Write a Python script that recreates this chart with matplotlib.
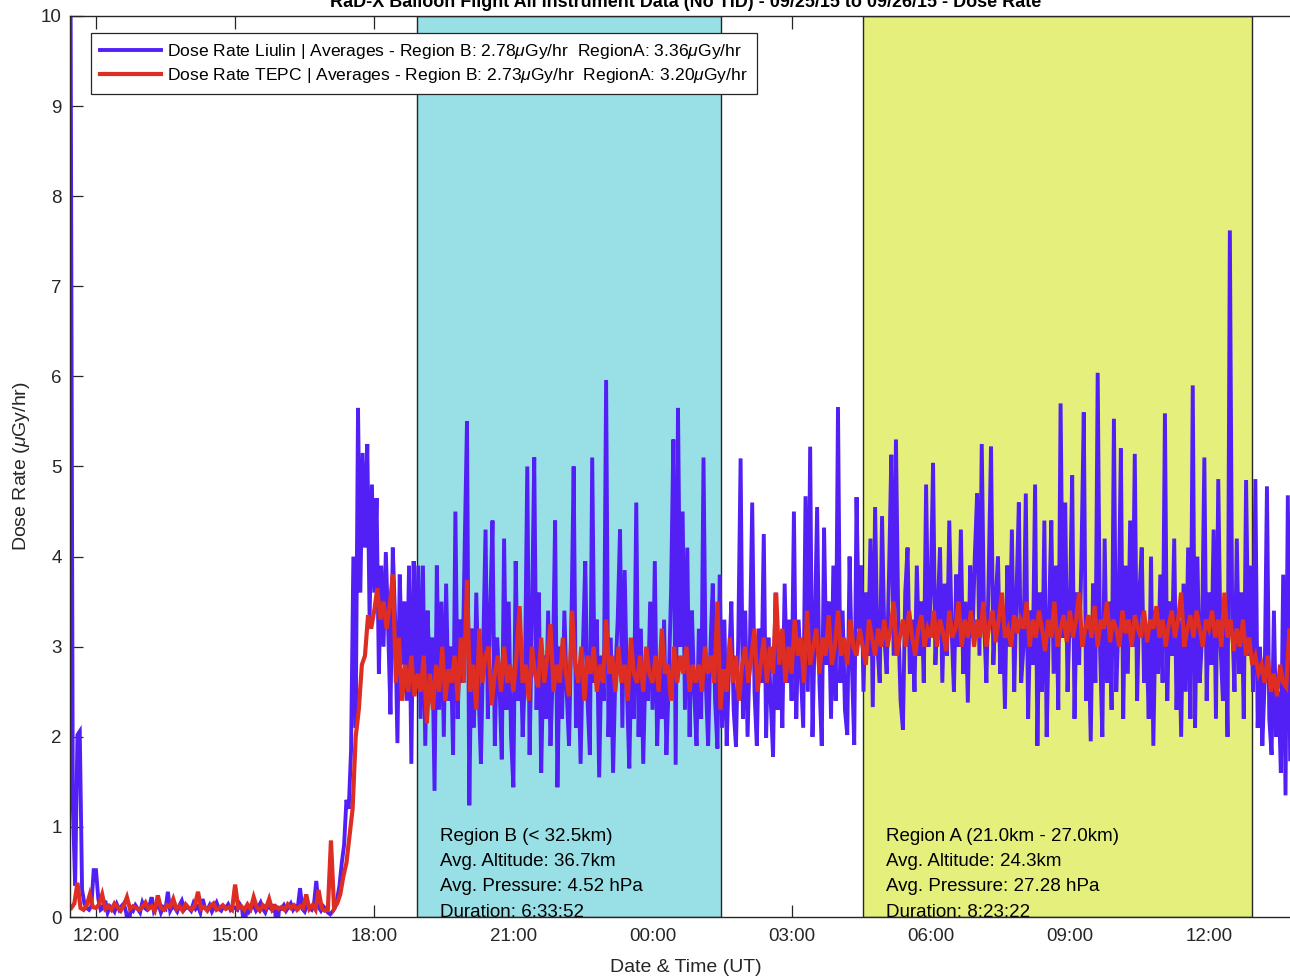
import matplotlib
matplotlib.use('Agg')
import matplotlib.pyplot as plt
import matplotlib.dates as mdates
import matplotlib.transforms as mtransforms
import pandas as pd

plt.rcParams['font.family'] = ['Liberation Sans', 'DejaVu Sans']
plt.rcParams['mathtext.fontset'] = 'custom'
plt.rcParams['mathtext.rm'] = 'Liberation Sans'
plt.rcParams['mathtext.it'] = 'Liberation Sans:italic'

# ---------------- data ----------------
title = "RaD-X Balloon Flight All Instrument Data (No TID) - 09/25/15 to 09/26/15 - Dose Rate"
xlabel = "Date & Time (UT)"
ylabel = "Dose Rate ($\\mu$Gy/hr)"
legend_labels = [
    "Dose Rate Liulin | Averages - Region B: 2.78$\\mu$Gy/hr  RegionA: 3.36$\\mu$Gy/hr",
    "Dose Rate TEPC | Averages - Region B: 2.73$\\mu$Gy/hr  RegionA: 3.20$\\mu$Gy/hr",
]

liulin_start = "2015-09-25 11:27"   # sampled every 3 minutes
liulin = [
    # 11:27 - 11:57
    10.6, 1.25, 0.35, 2.02, 2.06, 0.3, 0.15, 0.1, 0.08, 0.12, 0.52,
    # 12
    0.52, 0.2, 0.08, 0.1, 0.18, 0.05, 0.12, 0.1, 0.06, 0.14, 0.08, 0.12, 0.15, 0.05, -0.12, 0.1, 0.07, 0.13, 0.09, 0.05,
    # 13
    0.16, 0.1, 0.08, 0.12, 0.22, 0.06, 0.1, 0.14, 0.05, 0.11, 0.09, 0.28, 0.07, 0.12, 0.1, 0.06, 0.13, 0.18, 0.08, 0.11,
    # 14
    0.1, 0.07, 0.15, 0.09, 0.12, 0.05, 0.2, 0.1, 0.08, 0.13, 0.06, 0.11, 0.16, 0.09, 0.07, 0.12, 0.1, 0.14, 0.08, 0.11,
    # 15
    0.1, 0.08, 0.14, 0.09, -0.15, 0.12, 0.06, 0.1, 0.13, 0.07, 0.11, 0.16, 0.09, 0.05, 0.12, 0.1, 0.08, 0.14, -0.16, 0.1,
    # 16
    0.09, 0.13, 0.07, 0.11, 0.15, 0.08, 0.12, 0.1, 0.32, 0.09, 0.06, 0.13, 0.1, 0.08, 0.14, 0.4, 0.11, 0.07, 0.12, 0.09,
    # 17
    0.05, 0.03, 0.06, 0.1, 0.2, 0.35, 0.6, 0.8, 1.3, 1.2, 1.85, 4.0, 2.1, 5.65, 3.6, 5.15, 4.1, 5.25, 3.3, 4.8,
    # 18
    3.6, 4.65, 2.7, 3.9, 3.0, 4.05, 3.2, 2.25, 4.1, 3.3, 1.93, 3.8, 2.8, 3.5, 2.4, 3.9, 1.7, 3.95, 2.6, 3.9,
    # 19
    2.2, 3.9, 1.9, 3.4, 2.6, 3.1, 1.4, 3.9, 2.3, 3.5, 2.0, 3.7, 2.4, 3.0, 1.8, 4.5, 2.2, 3.3, 2.6, 4.1,
    # 20
    5.5, 1.24, 3.2, 2.1, 3.6, 2.5, 1.7, 3.0, 4.3, 2.2, 3.4, 4.4, 1.9, 3.1, 2.6, 1.75, 4.2, 2.3, 3.5, 2.0,
    # 21
    1.44, 3.95, 2.4, 3.1, 2.0, 2.7, 5.0, 1.8, 3.3, 5.1, 2.3, 3.6, 1.6, 2.9, 2.2, 3.4, 1.9, 2.7, 4.4, 1.44,
    # 22
    3.0, 2.2, 3.4, 2.5, 1.9, 3.2, 5.0, 2.1, 2.8, 1.7, 3.0, 3.95, 2.4, 1.8, 5.1, 2.6, 3.3, 1.55, 2.9, 2.4,
    # 23
    5.96, 2.0, 3.1, 1.6, 2.7, 3.3, 4.3, 2.1, 3.85, 2.5, 1.65, 3.0, 2.2, 4.6, 2.0, 3.2, 1.7, 2.8, 2.4, 3.5,
    # 00
    2.3, 3.95, 1.9, 2.8, 2.2, 3.3, 1.8, 2.6, 3.6, 5.3, 1.69, 5.65, 3.0, 4.5, 2.3, 4.1, 2.0, 3.4, 2.5, 1.9,
    # 01
    3.2, 2.2, 5.1, 2.6, 1.9, 3.0, 3.7, 2.4, 1.87, 3.8, 2.1, 3.3, 1.9, 2.8, 3.5, 2.3, 1.89, 3.1, 5.09, 2.2,
    # 02
    3.4, 2.0, 3.0, 4.6, 2.5, 1.9, 3.2, 2.6, 4.25, 1.99, 3.1, 2.4, 1.78, 3.6, 2.3, 3.0, 2.1, 3.7, 2.6, 3.3,
    # 03
    2.4, 4.5, 2.2, 3.3, 2.7, 2.1, 4.67, 2.5, 5.22, 2.0, 3.2, 4.55, 2.6, 1.9, 4.32, 2.8, 3.5, 2.2, 3.9, 2.4,
    # 04
    5.66, 2.6, 3.4, 2.3, 2.02, 4.0, 2.8, 1.91, 4.66, 3.2, 3.9, 2.5, 3.6, 2.9, 4.2, 2.33, 4.55, 3.0, 2.6, 4.45,
    # 05
    3.1, 2.7, 3.8, 5.13, 2.9, 5.3, 3.3, 2.4, 2.08, 3.6, 4.1, 2.7, 3.3, 2.5, 3.9, 2.9, 3.5, 2.6, 4.8, 3.0,
    # 06
    3.6, 5.04, 2.8, 3.4, 4.1, 2.6, 3.7, 2.9, 4.4, 3.2, 2.5, 3.8, 3.0, 4.3, 2.7, 3.5, 2.38, 3.9, 3.1, 4.0,
    # 07
    4.7, 2.9, 5.25, 3.3, 2.6, 3.8, 5.22, 2.8, 3.5, 4.0, 2.7, 3.4, 2.31, 3.9, 3.0, 4.3, 2.5, 3.6, 4.6, 2.6,
    # 08
    3.0, 4.7, 2.2, 3.4, 2.8, 4.8, 1.9, 3.6, 2.5, 4.4, 2.0, 3.3, 4.4, 2.7, 3.9, 2.3, 5.7, 3.1, 4.6, 2.5,
    # 09
    3.4, 4.9, 2.2, 3.6, 2.8, 4.0, 5.6, 2.4, 3.2, 1.95, 3.7, 2.6, 6.04, 3.0, 2.0, 4.2, 2.6, 3.5, 2.3, 5.53,
    # 10
    2.5, 3.3, 5.2, 2.2, 3.9, 2.7, 4.4, 3.0, 5.14, 2.4, 3.6, 4.1, 2.6, 3.2, 2.2, 4.0, 1.9, 3.4, 2.7, 3.8,
    # 11
    2.6, 5.59, 2.4, 3.5, 2.9, 4.2, 2.3, 3.3, 2.0, 3.7, 2.5, 4.1, 2.2, 5.9, 2.1, 4.0, 2.6, 3.1, 5.1, 2.4,
    # 12
    3.6, 2.8, 4.3, 2.2, 4.86, 3.0, 2.4, 3.5, 2.0, 7.62, 3.3, 2.5, 4.2, 2.7, 3.6, 2.2, 4.85, 2.9, 3.9, 2.5,
    # 13:00 - 13:45
    4.86, 2.1, 3.0, 1.9, 2.6, 4.78, 2.2, 1.8, 3.4, 2.0, 2.5, 1.6, 3.8, 1.35, 4.68, 1.75,
]

tepc_start = "2015-09-25 11:24"   # sampled every 4 minutes
tepc = [
    # 11:24 - 11:56
    0.12, 0.1, 0.15, 0.38, 0.1, 0.08, 0.13, 0.25, 0.11,
    # 12
    0.1, 0.14, 0.25, 0.09, 0.12, 0.08, 0.15, 0.11, 0.07, 0.13, 0.22, 0.09, 0.12, 0.1, 0.08,
    # 13
    0.11, 0.16, 0.09, 0.12, 0.07, 0.24, 0.1, 0.08, 0.13, 0.11, 0.2, 0.09, 0.12, 0.07, 0.14,
    # 14
    0.1, 0.08, 0.13, 0.28, 0.09, 0.11, 0.07, 0.12, 0.15, 0.08, 0.1, 0.13, 0.09, 0.11, 0.08,
    # 15
    0.36, 0.1, 0.12, 0.08, 0.14, 0.09, 0.22, 0.11, 0.07, 0.13, 0.1, 0.2, 0.08, 0.12, 0.09,
    # 16
    0.11, 0.08, 0.14, 0.1, 0.13, 0.08, 0.12, 0.1, 0.25, 0.09, 0.13, 0.08, 0.3, 0.1, 0.07,
    # 17
    0.08, 0.85, 0.1, 0.15, 0.25, 0.45, 0.6, 0.9, 1.2, 2.0, 2.3, 2.8, 2.9, 3.35, 3.2,
    # 18
    3.4, 3.65, 3.3, 3.5, 3.2, 3.45, 3.8, 2.6, 3.1, 2.4, 2.8, 2.5, 2.9, 2.45, 2.7,
    # 19
    2.5, 2.9, 2.15, 2.7, 2.3, 2.8, 2.5, 3.0, 2.4, 2.75, 2.6, 2.9, 2.4, 3.1, 2.6,
    # 20
    3.74, 2.5, 2.8, 2.3, 3.2, 2.6, 2.9, 3.0, 2.35, 2.7, 2.9, 2.5, 3.0, 2.6, 2.8,
    # 21
    2.5, 2.9, 3.45, 2.6, 2.8, 2.4, 3.0, 2.7, 2.55, 3.1, 2.6, 2.9, 3.25, 2.5, 2.8,
    # 22
    2.6, 3.1, 2.7, 2.45, 3.4, 2.8, 2.6, 3.0, 2.4, 2.9, 2.7, 3.0, 2.5, 2.8, 2.6,
    # 23
    3.3, 2.7, 2.9, 2.5, 3.0, 2.6, 2.8, 2.4, 3.1, 2.7, 2.6, 2.9, 2.5, 3.0, 2.7,
    # 00
    2.6, 2.9, 2.5, 3.2, 2.7, 2.8, 2.4, 3.0, 2.6, 2.9, 2.7, 3.0, 2.5, 2.8, 2.6,
    # 01
    2.8, 2.5, 3.0, 2.7, 2.9, 2.6, 3.5, 2.3, 2.75, 2.5, 3.1, 2.6, 2.9, 2.4, 2.8,
    # 02
    3.0, 2.6, 2.9, 3.2, 2.5, 2.8, 3.1, 2.6, 3.0, 2.7, 3.6, 2.8, 3.2, 2.6, 3.0,
    # 03
    2.7, 3.3, 2.9, 3.1, 2.6, 3.4, 2.8, 3.0, 3.2, 2.7, 3.1, 2.9, 3.35, 2.8, 3.0,
    # 04
    3.4, 2.9, 3.1, 2.8, 3.3, 3.0, 2.9, 3.2, 3.0, 2.8, 3.3, 3.1, 2.9, 3.2, 3.0,
    # 05
    3.3, 3.0, 3.2, 3.5, 2.9, 3.1, 3.3, 3.0, 3.4, 3.1, 2.9, 3.2, 3.35, 3.0, 3.2,
    # 06
    3.1, 3.4, 3.0, 3.3, 3.15, 2.95, 3.4, 3.1, 3.2, 3.5, 3.0, 3.3, 3.1, 3.4, 3.0,
    # 07
    3.3, 3.1, 3.5, 3.0, 3.25, 3.4, 3.05, 3.3, 3.6, 3.1, 3.2, 3.0, 3.35, 3.15, 3.3,
    # 08
    3.2, 3.5, 3.0, 3.3, 3.1, 3.4, 3.2, 2.95, 3.3, 3.1, 3.5, 3.0, 3.2, 3.35, 3.05,
    # 09
    3.4, 3.1, 3.3, 3.6, 3.0, 3.2, 3.35, 3.1, 3.45, 3.0, 3.3, 3.2, 3.5, 3.05, 3.3,
    # 10
    3.2, 3.0, 3.4, 3.15, 3.3, 3.0, 3.35, 3.2, 3.1, 3.4, 3.05, 3.3, 3.2, 3.45, 3.1,
    # 11
    3.3, 3.0, 3.25, 3.4, 3.1, 3.3, 3.6, 3.0, 3.2, 3.35, 3.1, 3.4, 3.2, 3.0, 3.3,
    # 12
    3.2, 3.4, 3.1, 3.3, 3.0, 3.6, 3.1, 3.3, 2.95, 3.2, 3.0, 3.3, 2.9, 3.1, 2.8,
    # 13:00 - 13:48
    2.9, 2.7, 2.8, 2.6, 2.9, 2.5, 2.7, 2.45, 2.8, 2.6, 2.55, 3.2, 2.6,
]

region_start = ["2015-09-25 18:55:19", "2015-09-26 04:32:21"]
region_duration = ["6:33:52", "8:23:22"]
region_text = [
    ["Region B (< 32.5km)", "Avg. Altitude: 36.7km", "Avg. Pressure: 4.52 hPa", "Duration: 6:33:52"],
    ["Region A (21.0km - 27.0km)", "Avg. Altitude: 24.3km", "Avg. Pressure: 27.28 hPa", "Duration: 8:23:22"],
]
region_colors = ["#98E0E6", "#E5EF7B"]

x_min = "2015-09-25 11:26:22"
x_max = "2015-09-26 13:44:49"
y_ticks = [0, 1, 2, 3, 4, 5, 6, 7, 8, 9, 10]

# ---------------- plot ----------------
W, H = 1290, 977
fig = plt.figure(figsize=(W / 100, H / 100), dpi=100)
ax_left, ax_right, ax_top, ax_bot = 70, 1290, 16, 917
ax = fig.add_axes([ax_left / W, 1 - ax_bot / H, (ax_right - ax_left) / W, (ax_bot - ax_top) / H])
ax.set_axisbelow(True)

txt_col = '#262626'
blue = '#5220F5'
red = '#DE2D23'

t_l = pd.date_range(liulin_start, periods=len(liulin), freq='3min')
t_t = pd.date_range(tepc_start, periods=len(tepc), freq='4min')

for s, d, c in zip(region_start, region_duration, region_colors):
    t0 = pd.Timestamp(s)
    t1 = t0 + pd.Timedelta(d)
    ax.axvspan(t0, t1, facecolor=c, edgecolor=txt_col, linewidth=1.0, zorder=1)

l1, = ax.plot(t_l, liulin, color=blue, linewidth=2.8, zorder=2, solid_joinstyle='miter')
l2, = ax.plot(t_t, tepc, color=red, linewidth=3.0, zorder=3, solid_joinstyle='miter')

trans = mtransforms.blended_transform_factory(ax.transData, ax.transAxes)
for s, lines in zip(region_start, region_text):
    x0 = mdates.date2num(pd.Timestamp(s) + pd.Timedelta(minutes=30))
    for k, line in enumerate(lines):
        ax.text(x0, 0.0899 - 0.0282 * k, line, transform=trans, fontsize=13.5,
                color='black', va='center', ha='left', clip_on=True, zorder=4)

ax.set_xlim(pd.Timestamp(x_min), pd.Timestamp(x_max))
ax.set_ylim(0, 10)
ax.set_yticks(y_ticks)
ax.xaxis.set_major_locator(mdates.HourLocator(byhour=range(0, 24, 3)))
ax.xaxis.set_major_formatter(mdates.DateFormatter('%H:%M'))
ax.tick_params(axis='both', direction='in', length=9, width=0.9, colors=txt_col,
               labelsize=13.5, top=True, right=False)
ax.tick_params(axis='x', pad=8)
ax.tick_params(axis='y', pad=6)
for sp in ['left', 'bottom', 'top']:
    ax.spines[sp].set_color(txt_col)
    ax.spines[sp].set_linewidth(1.0)
    ax.spines[sp].set_zorder(5)
ax.spines['right'].set_visible(False)

leg = ax.legend([l1, l2], legend_labels, loc='upper left',
                bbox_to_anchor=((91 - ax_left) / (ax_right - ax_left), 1 - (33 - ax_top) / (ax_bot - ax_top)),
                borderaxespad=0, fontsize=12.6, handlelength=3.5, handletextpad=0.35,
                labelspacing=0.32, borderpad=0.5, fancybox=False, framealpha=1,
                edgecolor=txt_col)
leg.get_frame().set_linewidth(0.9)
leg.set_zorder(6)
for t in leg.get_texts():
    t.set_color('black')

fig.text(686 / W, 1 - 7 / H, title, ha='center', va='baseline', fontsize=13,
         fontweight='bold', color='black')
fig.text(686 / W, 1 - 967 / H, xlabel, ha='center', va='center', fontsize=14, color=txt_col)
fig.text(22 / W, 1 - 466 / H, ylabel, ha='center', va='center', rotation=90,
         fontsize=14, color=txt_col)

fig.savefig('out.png', dpi=100)
